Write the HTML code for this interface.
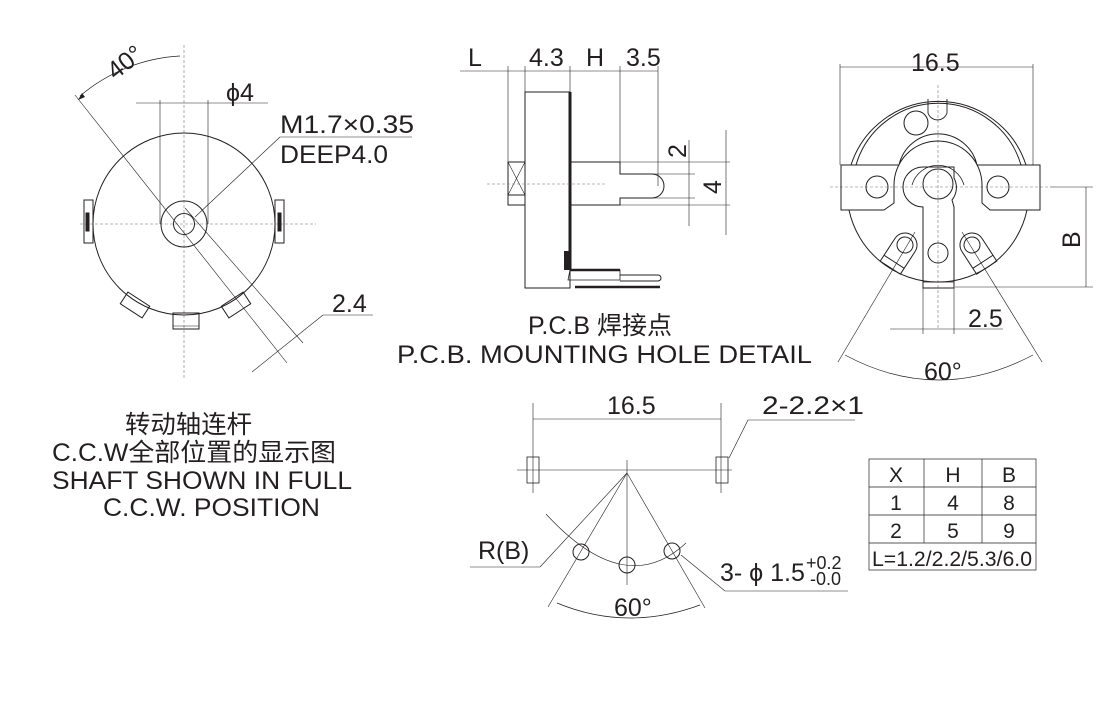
<!DOCTYPE html>
<html><head><meta charset="utf-8"><style>
html,body{margin:0;padding:0;background:#fff}
svg{display:block}
text{font-family:"Liberation Sans","Noto Sans CJK SC",sans-serif;fill:#231f20}
</style></head><body>
<svg width="1120" height="712" viewBox="0 0 1120 712" xmlns="http://www.w3.org/2000/svg">
<g fill="none" stroke="#231f20" stroke-width="1">
<!-- LEFT VIEW -->
<line x1="184" y1="45" x2="184" y2="378" stroke-width="0.6" stroke-dasharray="3,2" stroke="#777"/>
<line x1="80" y1="224" x2="316" y2="224" stroke-width="0.6" stroke-dasharray="3,2" stroke="#777"/>
<circle cx="184" cy="224" r="91"/>
<circle cx="184" cy="224" r="23"/>
<circle cx="184" cy="224" r="10.5"/>
<rect x="84" y="200" width="9" height="43"/>
<rect x="86" y="213" width="3" height="18" fill="#231f20"/>
<rect x="275" y="200" width="9" height="43"/>
<rect x="278" y="213" width="3" height="18" fill="#231f20"/>
<rect x="173" y="313" width="26" height="16"/>
<line x1="173" y1="326" x2="199" y2="326" stroke-width="0.6"/>
<g transform="rotate(33 135 305)"><rect x="122" y="298" width="26" height="14"/></g>
<g transform="rotate(-33 236 305)"><rect x="223" y="298" width="26" height="14"/></g>
<path d="M80 96 A168 168 0 0 1 180 56" stroke-width="0.7"/>
<path d="M82 93 l-4 7 l7 -3 z" fill="#231f20" stroke="none"/>
<line x1="75" y1="95" x2="287" y2="363" stroke-width="0.6"/>
<line x1="185" y1="208" x2="303" y2="343" stroke-width="0.6"/>
<line x1="252" y1="372" x2="323" y2="315" stroke-width="0.6"/>
<line x1="323" y1="315" x2="373" y2="315" stroke-width="0.6"/>
<line x1="136" y1="103" x2="268" y2="103" stroke-width="0.6"/>
<line x1="160" y1="100" x2="160" y2="224" stroke-width="0.6"/>
<line x1="208" y1="100" x2="208" y2="224" stroke-width="0.6"/>
<line x1="195" y1="217" x2="280" y2="137" stroke-width="0.6"/>
<line x1="280" y1="137" x2="412" y2="137" stroke-width="0.6"/>

<!-- MIDDLE SIDE VIEW -->
<line x1="460" y1="71" x2="658" y2="71" stroke-width="0.6"/>
<line x1="508" y1="66" x2="508" y2="205" stroke-width="0.6"/>
<line x1="525" y1="66" x2="525" y2="92" stroke-width="0.6"/>
<line x1="570" y1="66" x2="570" y2="92" stroke-width="0.6"/>
<line x1="620" y1="66" x2="620" y2="162" stroke-width="0.6"/>
<line x1="658" y1="66" x2="658" y2="186" stroke-width="0.6"/>
<rect x="525" y="92" width="45" height="196"/>
<line x1="570" y1="92" x2="570" y2="270" stroke-width="3"/>
<rect x="508" y="162" width="17" height="43"/>
<line x1="508" y1="195" x2="525" y2="195"/>
<line x1="508" y1="162" x2="525" y2="195" stroke-width="0.6"/>
<line x1="525" y1="162" x2="508" y2="195" stroke-width="0.6"/>
<path d="M570 162 H620 V174 H652 A12 12 0 0 1 652 198 H620 V205 H570"/>
<line x1="487" y1="184" x2="605" y2="184" stroke-width="0.6" stroke-dasharray="3,2" stroke="#777"/>
<line x1="570" y1="162" x2="730" y2="162" stroke-width="0.6"/>
<line x1="570" y1="205" x2="730" y2="205" stroke-width="0.6"/>
<line x1="652" y1="174" x2="695" y2="174" stroke-width="0.6"/>
<line x1="652" y1="198" x2="695" y2="198" stroke-width="0.6"/>
<line x1="689" y1="140" x2="689" y2="226" stroke-width="0.6"/>
<line x1="726" y1="130" x2="726" y2="235" stroke-width="0.6"/>
<rect x="564" y="251" width="6" height="19" fill="#231f20" stroke="none"/>
<path d="M570 270 H620 V280 H568 Z" stroke-width="0.8"/>
<line x1="570" y1="270" x2="620" y2="270" stroke-width="2.5"/>
<line x1="575" y1="287" x2="660" y2="287" stroke-width="2.5"/>
<path d="M620 275 H658 A3 3 0 0 1 658 281 H620"/>

<!-- RIGHT VIEW -->
<line x1="840" y1="67" x2="1033" y2="67" stroke-width="0.6"/>
<line x1="840" y1="64" x2="840" y2="165" stroke-width="0.6"/>
<line x1="1033" y1="64" x2="1033" y2="165" stroke-width="0.6"/>
<line x1="938" y1="85" x2="938" y2="330" stroke-width="0.6" stroke-dasharray="3,2" stroke="#777"/>
<line x1="830" y1="187" x2="1050" y2="187" stroke-width="0.6" stroke-dasharray="3,2" stroke="#777"/>
<path d="M849 210 A91 91 0 0 0 1027 210"/>
<path d="M851 165 A92 92 0 0 1 1026 165"/>
<path d="M856 165 A86 86 0 0 1 1021 165"/>
<path d="M841 165 H899 A40 40 0 0 1 977 165 H1040 V210 H990 L982 203 V185 A44 44 0 0 0 894 185 V203 L884 210 H841 Z"/>
<path d="M912 185 A27 27 0 0 1 964 185" stroke-width="0.8"/>
<path d="M928 99 V113 A10 10 0 0 0 947 113 V99" stroke-width="0.9"/>
<circle cx="916" cy="123" r="12"/>
<circle cx="877" cy="187" r="11"/>
<circle cx="998" cy="187" r="11"/>
<path d="M923 167 H954 V178 A20 20 0 0 1 952 200 L954 207 V288 H923 V207 A20 20 0 0 1 923 167 Z"/>
<circle cx="938" cy="184" r="15"/>
<circle cx="938" cy="253" r="10"/>
<line x1="923" y1="282" x2="954" y2="282" stroke-width="0.7"/>
<g transform="rotate(33 905 245)"><path d="M893 245 A12 12 0 0 1 917 245 V272 H893 Z"/><line x1="893" y1="265" x2="917" y2="265"/><circle cx="905" cy="245" r="8"/></g>
<g transform="rotate(-33 972 245)"><path d="M960 245 A12 12 0 0 1 984 245 V272 H960 Z"/><line x1="960" y1="265" x2="984" y2="265"/><circle cx="972" cy="245" r="8"/></g>
<line x1="1050" y1="187" x2="1093" y2="187" stroke-width="0.6"/>
<line x1="955" y1="287" x2="1093" y2="287" stroke-width="0.6"/>
<line x1="1086" y1="187" x2="1086" y2="287" stroke-width="0.6"/>
<line x1="890" y1="329" x2="1003" y2="329" stroke-width="0.6"/>
<line x1="923" y1="288" x2="923" y2="334" stroke-width="0.6"/>
<line x1="954" y1="288" x2="954" y2="334" stroke-width="0.6"/>
<line x1="915" y1="232" x2="838" y2="362" stroke-width="0.6"/>
<line x1="962" y1="232" x2="1042" y2="362" stroke-width="0.6"/>
<path d="M845 355 Q938 405 1033 355" stroke-width="0.7"/>

<!-- BOTTOM VIEW -->
<line x1="533" y1="419" x2="721" y2="419" stroke-width="0.6"/>
<line x1="533" y1="403" x2="533" y2="493" stroke-width="0.6"/>
<line x1="721" y1="403" x2="721" y2="493" stroke-width="0.6"/>
<line x1="517" y1="470" x2="732" y2="470" stroke-width="0.6"/>
<rect x="527" y="457" width="12" height="26" stroke-width="0.8"/>
<rect x="716" y="457" width="12" height="26" stroke-width="0.8"/>
<line x1="729" y1="458" x2="748" y2="420" stroke-width="0.6"/>
<line x1="748" y1="420" x2="855" y2="420" stroke-width="0.6"/>
<line x1="627" y1="460" x2="627" y2="585" stroke-width="0.6"/>
<line x1="627" y1="473" x2="548" y2="607" stroke-width="0.6"/>
<line x1="627" y1="473" x2="705" y2="608" stroke-width="0.6"/>
<line x1="627" y1="473" x2="540" y2="567" stroke-width="0.6"/>
<line x1="540" y1="567" x2="470" y2="567" stroke-width="0.6"/>
<path d="M546 514 Q625 600 686 543" stroke-width="0.6"/>
<circle cx="581" cy="552" r="8"/>
<circle cx="627" cy="565" r="8"/>
<circle cx="672" cy="551" r="8"/>
<line x1="681" y1="555" x2="725" y2="591" stroke-width="0.6"/>
<line x1="725" y1="591" x2="848" y2="591" stroke-width="0.6"/>
<path d="M557 603 Q627 632 700 605" stroke-width="0.7"/>

<!-- TABLE -->
<rect x="869" y="459" width="167" height="111" stroke-width="0.7"/>
<line x1="869" y1="487" x2="1036" y2="487" stroke-width="0.7"/>
<line x1="869" y1="515" x2="1036" y2="515" stroke-width="0.7"/>
<line x1="869" y1="543" x2="1036" y2="543" stroke-width="0.7"/>
<line x1="924" y1="459" x2="924" y2="543" stroke-width="0.7"/>
<line x1="982" y1="459" x2="982" y2="543" stroke-width="0.7"/>
</g>

<g font-size="25">
<text x="104" y="72" transform="rotate(-38 122 60)">40°</text>
<text x="226" y="101">ϕ4</text>
<text x="280" y="133" textLength="134" lengthAdjust="spacingAndGlyphs">M1.7×0.35</text>
<text x="280" y="163" textLength="108" lengthAdjust="spacingAndGlyphs">DEEP4.0</text>
<text x="332" y="312">2.4</text>
<text x="468" y="66">L</text>
<text x="529" y="66">4.3</text>
<text x="586" y="66">H</text>
<text x="626" y="66">3.5</text>
<text x="0" y="0" transform="translate(686 158) rotate(-90)">2</text>
<text x="0" y="0" transform="translate(721 194) rotate(-90)">4</text>
<text x="600" y="334" text-anchor="middle">P.C.B 焊接点</text>
<text x="397" y="363" textLength="415" lengthAdjust="spacingAndGlyphs">P.C.B. MOUNTING  HOLE DETAIL</text>
<text x="911" y="71">16.5</text>
<text x="0" y="0" transform="translate(1080 248) rotate(-90)">B</text>
<text x="968" y="327">2.5</text>
<text x="924" y="380">60°</text>
<text x="125" y="433" textLength="127" lengthAdjust="spacingAndGlyphs">转动轴连杆</text>
<text x="52" y="461" textLength="284" lengthAdjust="spacingAndGlyphs">C.C.W全部位置的显示图</text>
<text x="52" y="489" textLength="300" lengthAdjust="spacingAndGlyphs">SHAFT SHOWN IN FULL</text>
<text x="103" y="516" textLength="217" lengthAdjust="spacingAndGlyphs">C.C.W. POSITION</text>
<text x="607" y="414">16.5</text>
<text x="762" y="414" textLength="102" lengthAdjust="spacingAndGlyphs">2-2.2×1</text>
<text x="478" y="559">R(B)</text>
<text x="720" y="581">3- ϕ 1.5</text>
<text x="806" y="569" font-size="18">+0.2</text>
<text x="810" y="585" font-size="18">-0.0</text>
<text x="614" y="616">60°</text>
</g>
<g font-size="21" text-anchor="middle">
<text x="896" y="482">X</text><text x="953" y="482">H</text><text x="1009" y="482">B</text>
<text x="896" y="510">1</text><text x="953" y="510">4</text><text x="1009" y="510">8</text>
<text x="896" y="538">2</text><text x="953" y="538">5</text><text x="1009" y="538">9</text>
<text x="952" y="566" textLength="160" lengthAdjust="spacingAndGlyphs">L=1.2/2.2/5.3/6.0</text>
</g>
</svg>
</body></html>
